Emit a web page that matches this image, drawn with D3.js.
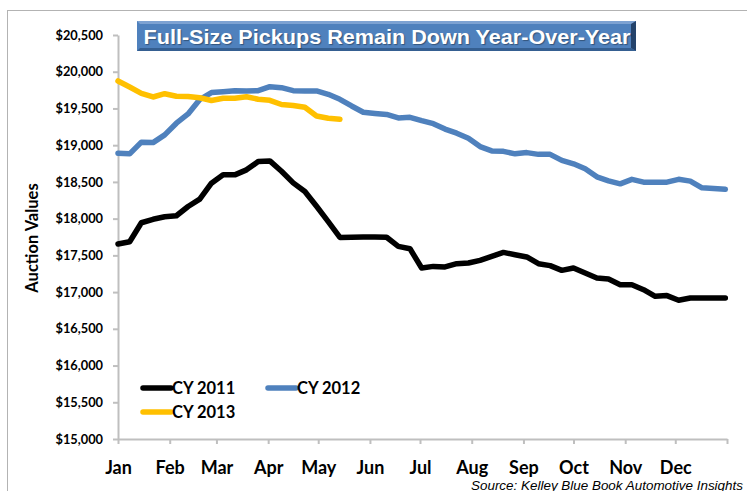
<!DOCTYPE html>
<html lang="en">
<head>
  <meta charset="UTF-8" />
  <title>Full-Size Pickups Remain Down Year-Over-Year</title>
  <style>
    body { margin: 0; background: #fff; }
    svg { display: block; }
    .tick text { font-family: Lato, "Open Sans", sans-serif; font-weight: bold; fill: #000; }
    .legend text { font-family: Lato, sans-serif; font-weight: bold; font-size: 16.5px; }
  </style>
</head>
<body>
  <svg width="747" height="491"></svg>

  <script src="https://d3js.org/d3.v7.min.js"></script>
  <script>
    // weekly auction values (one point per week from Jan 1)
    const seriesNames = ["CY 2011", "CY 2012", "CY 2013"];
    const cy2011 = [17655, 17686, 17944, 17991, 18025, 18039, 18165, 18266, 18483, 18596,
      18596, 18664, 18777, 18786, 18645, 18487, 18369, 18168, 17960, 17744,
      17747, 17750, 17750, 17747, 17622, 17590, 17328, 17350, 17342, 17387,
      17396, 17432, 17486, 17540, 17509, 17478, 17387, 17360, 17296, 17328,
      17260, 17192, 17179, 17101, 17101, 17033, 16942, 16952, 16888, 16920,
      16920, 16920, 16920];
    const cy2012 = [18891, 18882, 19041, 19035, 19140, 19299, 19425, 19622, 19717, 19728,
      19742, 19738, 19742, 19796, 19783, 19742, 19738, 19738, 19693, 19625,
      19534, 19448, 19432, 19418, 19371, 19380, 19334, 19293, 19219, 19163,
      19095, 18981, 18922, 18916, 18882, 18899, 18875, 18875, 18793, 18746,
      18678, 18569, 18515, 18474, 18535, 18497, 18497, 18497, 18535, 18511,
      18420, 18410, 18399];
    const cy2013 = [19874, 19792, 19706, 19656, 19701, 19666, 19663, 19645, 19609, 19639,
      19639, 19660, 19625, 19611, 19554, 19541, 19516, 19398, 19367, 19354];
    const colors = ["#000000", "#4f81bd", "#ffc000"];
    const yTicks = [15000, 15500, 16000, 16500, 17000, 17500, 18000, 18500, 19000, 19500, 20000, 20500];
    const monthLabels = ["Jan", "Feb", "Mar", "Apr", "May", "Jun", "Jul", "Aug", "Sep", "Oct", "Nov", "Dec"];

    const svg = d3.select("svg");
    const yearStart = new Date(2011, 0, 1);
    const yearEnd = new Date(2012, 0, 1);
    const weekDate = i => d3.timeDay.offset(yearStart, 7 * i);

    const x = d3.scaleTime().domain([yearStart, yearEnd]).range([118, 727]);
    const y = d3.scaleLinear().domain([15000, 20500]).range([439, 35]);

    // outer frame
    svg.append("rect")
      .attr("x", 7.5).attr("y", 10.5)
      .attr("width", 800).attr("height", 600)
      .attr("fill", "none").attr("stroke", "#b3b3b3").attr("stroke-width", 1);

    // y axis
    const yAxis = svg.append("g")
      .attr("transform", "translate(118,0)")
      .call(d3.axisLeft(y).tickValues(yTicks).tickFormat(d3.format("$,")).tickSize(5).tickSizeOuter(0).tickPadding(10));
    yAxis.selectAll("text").style("font-size", "12.8px");

    // x axis
    const months = d3.timeMonths(yearStart, d3.timeDay.offset(yearEnd, 1));
    const xAxis = svg.append("g")
      .attr("transform", "translate(0,439)")
      .call(d3.axisBottom(x).tickValues(months)
        .tickFormat((d, i) => monthLabels[i] || "").tickSize(5).tickSizeOuter(0));
    xAxis.selectAll("text").attr("y", 35).attr("dy", 0).style("font-size", "18px");

    svg.selectAll(".domain, .tick line")
      .attr("stroke", "#bfbfbf").attr("stroke-width", 2);

    // axis title
    svg.append("text")
      .attr("transform", "translate(38,238) rotate(-90)")
      .attr("text-anchor", "middle")
      .style("font-family", "Lato, sans-serif")
      .style("font-weight", "bold")
      .style("font-size", "16.5px")
      .text("Auction Values");

    // lines
    const line = d3.line()
      .x((d, i) => x(weekDate(i)))
      .y(d => y(d));

    [cy2011, cy2012, cy2013].forEach((vals, k) => {
      svg.append("path")
        .datum(vals)
        .attr("d", line)
        .attr("fill", "none")
        .attr("stroke", colors[k])
        .attr("stroke-width", 5.5)
        .attr("stroke-linejoin", "round")
        .attr("stroke-linecap", "round");
    });

    // legend
    const legendPos = [[143, 388], [268, 388], [143, 412]];
    const legend = svg.append("g").attr("class", "legend");
    seriesNames.forEach((name, k) => {
      const [lx, ly] = legendPos[k];
      legend.append("line")
        .attr("x1", lx).attr("x2", lx + 28)
        .attr("y1", ly).attr("y2", ly)
        .attr("stroke", colors[k]).attr("stroke-width", 5.5)
        .attr("stroke-linecap", "round");
      legend.append("text")
        .attr("x", lx + 29).attr("y", ly + 6)
        .text(name);
    });

    // title box
    const tb = { x: 137, y: 21, w: 499, h: 30 };
    const title = svg.append("g");
    title.append("rect")
      .attr("x", tb.x).attr("y", tb.y).attr("width", tb.w).attr("height", tb.h)
      .attr("fill", "#4f81bd");
    title.append("polygon")
      .attr("points", `${tb.x},${tb.y} ${tb.x + tb.w},${tb.y} ${tb.x + tb.w - 4},${tb.y + 3} ${tb.x + 3},${tb.y + 3}`)
      .attr("fill", "#7da2d2");
    title.append("polygon")
      .attr("points", `${tb.x + tb.w},${tb.y} ${tb.x + tb.w},${tb.y + tb.h} ${tb.x + tb.w - 5},${tb.y + tb.h - 3} ${tb.x + tb.w - 5},${tb.y + 3}`)
      .attr("fill", "#24436b");
    title.append("polygon")
      .attr("points", `${tb.x},${tb.y + tb.h} ${tb.x + tb.w},${tb.y + tb.h} ${tb.x + tb.w - 5},${tb.y + tb.h - 3} ${tb.x + 3},${tb.y + tb.h - 3}`)
      .attr("fill", "#355f91");
    title.append("text")
      .attr("x", 387).attr("y", 43.5)
      .attr("text-anchor", "middle")
      .attr("fill", "#fff")
      .attr("textLength", 487)
      .attr("lengthAdjust", "spacingAndGlyphs")
      .style("font-family", "Arial, 'Liberation Sans', sans-serif")
      .style("font-weight", "bold")
      .style("font-size", "20.5px")
      .style("text-shadow", "1px 1px 1px rgba(0,0,0,0.35)")
      .text("Full-Size Pickups Remain Down Year-Over-Year");

    // source note
    svg.append("text")
      .attr("x", 743).attr("y", 489.5)
      .attr("text-anchor", "end")
      .attr("textLength", 272)
      .attr("lengthAdjust", "spacingAndGlyphs")
      .style("font-family", "Arial, 'Liberation Sans', sans-serif")
      .style("font-style", "italic")
      .style("font-size", "12.5px")
      .text("Source: Kelley Blue Book Automotive Insights");
  </script>
</body>
</html>
